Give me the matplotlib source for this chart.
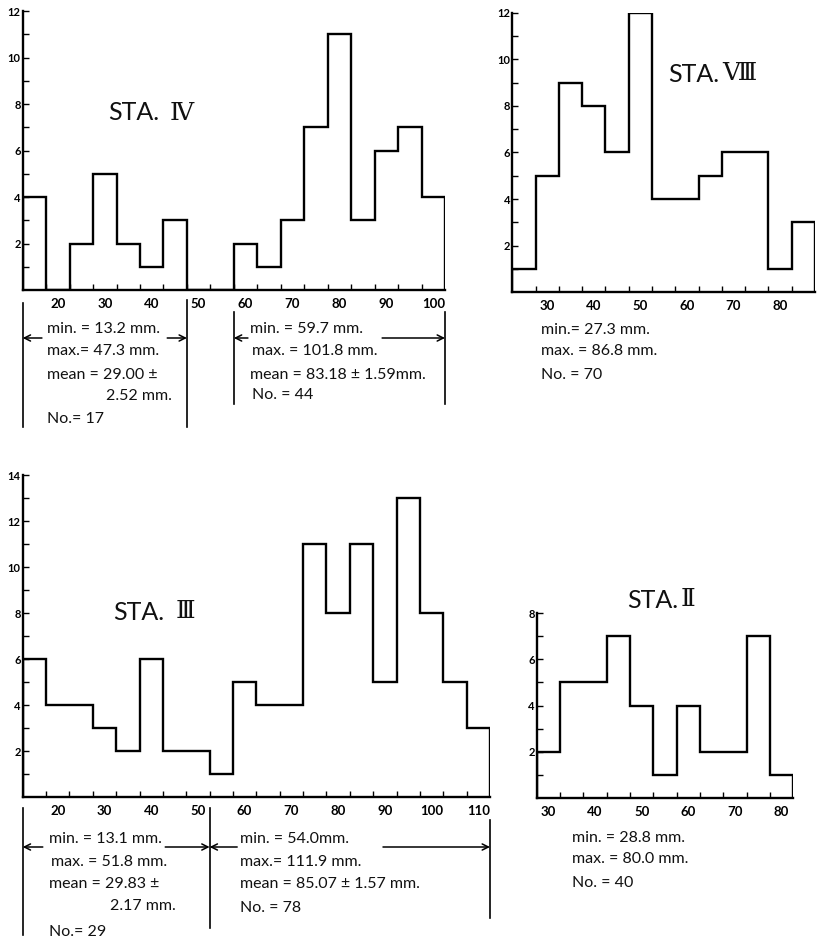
import numpy as np
import matplotlib
matplotlib.use("Agg")
import matplotlib.pyplot as plt
from matplotlib.transforms import Affine2D, blended_transform_factory
from matplotlib.ticker import FixedLocator

plt.rcParams['font.family'] = ['Lato', 'DejaVu Sans']

W, H = 817, 940
BIN = 5

# ---- data (counts per 5 mm class) ----
sta4_first_edge = 12.5
sta4_counts = [4, 0, 2, 5, 2, 1, 3, 0, 0, 2, 1, 3, 7, 11, 3, 6, 7, 4]
sta4_xlabels = [20, 30, 40, 50, 60, 70, 80, 90, 100]

sta8_first_edge = 22.5
sta8_counts = [1, 5, 9, 8, 6, 12, 4, 4, 5, 6, 6, 1, 3]
sta8_xlabels = [30, 40, 50, 60, 70, 80]

sta3_first_edge = 12.5
sta3_counts = [6, 4, 4, 3, 2, 6, 2, 2, 1, 5, 4, 4, 11, 8, 11, 5, 13, 8, 5, 3]
sta3_xlabels = [20, 30, 40, 50, 60, 70, 80, 90, 100, 110]

sta2_first_edge = 27.5
sta2_counts = [2, 5, 5, 7, 4, 1, 4, 2, 2, 7, 1]
sta2_xlabels = [30, 40, 50, 60, 70, 80]

fig = plt.figure(figsize=(W / 100, H / 100), dpi=100)
fig.patch.set_facecolor('white')
pxy = Affine2D().scale(1, -1).translate(0, H)  # x px, y px from top


def make_axes(left, right, top, bottom):
    return fig.add_axes([left / W, 1 - bottom / H, (right - left) / W, (bottom - top) / H])


def hist_panel(ax, first_edge, counts, ymax, xlabels):
    edges = first_edge + BIN * np.arange(len(counts) + 1)
    ax.stairs(counts, edges, baseline=0, color='black', lw=1.7)
    ax.set_xlim(edges[0], edges[-1])
    ax.set_ylim(0, ymax)
    for s in ['top', 'right']:
        ax.spines[s].set_visible(False)
    for s in ['left', 'bottom']:
        ax.spines[s].set_linewidth(1.7)
    ax.set_yticks(np.arange(2, ymax + 1, 2))
    ax.yaxis.set_minor_locator(FixedLocator(np.arange(1, ymax, 2)))
    ax.set_xticks(xlabels)
    ax.xaxis.set_minor_locator(FixedLocator(edges[1:-1]))
    ax.tick_params(axis='y', which='both', direction='in', length=4.5, width=1.0,
                   pad=1.5, labelsize=8)
    ax.tick_params(axis='x', which='major', length=0, pad=6, labelsize=9.5)
    ax.tick_params(axis='x', which='minor', direction='in', length=4, width=1.0)
    for lab in ax.get_yticklabels() + ax.get_xticklabels():
        lab.set_fontweight('bold')
    ax.patch.set_alpha(0)


def vline(ax, x, y0, y1):
    tr = blended_transform_factory(ax.transData, pxy)
    ax.plot([x, x], [y0, y1], color='black', lw=1.2, transform=tr, clip_on=False)


def arrow(ax, tail, tip, y):
    tr = blended_transform_factory(ax.transData, pxy)
    ax.annotate('', xy=(tip, y), xytext=(tail, y), xycoords=tr, textcoords=tr,
                annotation_clip=False,
                arrowprops=dict(arrowstyle='->', lw=1.1, color='black',
                                shrinkA=0, shrinkB=0, mutation_scale=11))


def txt(x, y, s, size=11.5):
    fig.text(x, y, s, transform=pxy, ha='left', va='center', fontsize=size, color='#111111')


def title(x, y, s, xnum, num):
    fig.text(x, y, s, transform=pxy, ha='left', va='center', fontsize=18, color='#111111')
    fig.text(xnum, y, num, transform=pxy, ha='left', va='center', fontsize=18,
             color='#111111', family=['DejaVu Serif', 'DejaVu Sans'])


# ---- STA. IV ----
ax1 = make_axes(22.7, 445, 11, 290)
hist_panel(ax1, sta4_first_edge, sta4_counts, 12, sta4_xlabels)
title(108, 113, 'STA.', 170, 'Ⅳ')
vline(ax1, 12.5, 303, 427)
vline(ax1, 47.5, 300, 427)
vline(ax1, 57.5, 312, 404)
vline(ax1, 102.5, 312, 404)
arrow(ax1, 16.6, 12.5, 338)
arrow(ax1, 43.3, 47.5, 338)
arrow(ax1, 60.5, 57.5, 338)
arrow(ax1, 89.1, 102.5, 338)
txt(47, 329, 'min. = 13.2 mm.')
txt(47, 351, 'max.= 47.3 mm.')
txt(47, 375, 'mean = 29.00 ±')
txt(106, 396, '2.52 mm.')
txt(47, 419, 'No.= 17')
txt(250, 329, 'min. = 59.7 mm.')
txt(252, 351, 'max. = 101.8 mm.')
txt(250, 375, 'mean = 83.18 ± 1.59mm.')
txt(252, 395, 'No. = 44')

# ---- STA. VIII ----
ax2 = make_axes(512.3, 815, 13, 292)
hist_panel(ax2, sta8_first_edge, sta8_counts, 12, sta8_xlabels)
title(668, 74, 'STA.', 722, 'Ⅷ')
txt(541, 330, 'min.= 27.3 mm.')
txt(541, 351, 'max. = 86.8 mm.')
txt(541, 375, 'No. = 70')

# ---- STA. III ----
ax3 = make_axes(22.7, 490, 475, 797)
hist_panel(ax3, sta3_first_edge, sta3_counts, 14, sta3_xlabels)
title(113, 612, 'STA.', 176, 'Ⅲ')
vline(ax3, 12.5, 808, 935)
vline(ax3, 52.5, 808, 928)
vline(ax3, 112.5, 820, 918)
arrow(ax3, 16.8, 12.5, 847)
arrow(ax3, 43.0, 52.5, 847)
arrow(ax3, 58.4, 52.5, 847)
arrow(ax3, 89.6, 112.5, 847)
txt(49, 839, 'min. = 13.1 mm.')
txt(51, 862, 'max. = 51.8 mm.')
txt(49, 884, 'mean = 29.83 ±')
txt(110, 906, '2.17 mm.')
txt(49, 932, 'No.= 29')
txt(240, 839, 'min. = 54.0mm.')
txt(240, 862, 'max.= 111.9 mm.')
txt(240, 884, 'mean = 85.07 ± 1.57 mm.')
txt(240, 908, 'No. = 78')

# ---- STA. II ----
ax4 = make_axes(536.7, 793.3, 613, 798)
hist_panel(ax4, sta2_first_edge, sta2_counts, 8, sta2_xlabels)
title(627, 600, 'STA.', 681, 'Ⅱ')
txt(572, 838, 'min. = 28.8 mm.')
txt(572, 859, 'max. = 80.0 mm.')
txt(572, 883, 'No. = 40')

fig.savefig('out.png', dpi=100, facecolor='white')
